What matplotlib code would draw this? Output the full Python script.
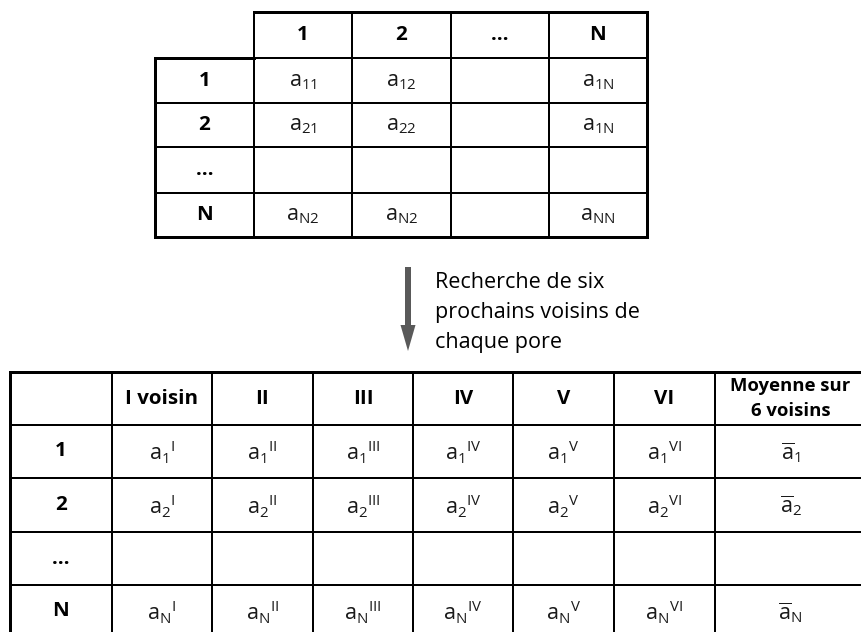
import matplotlib
matplotlib.use("Agg")
import matplotlib.pyplot as plt

plt.rcParams['font.family'] = ['Open Sans', 'DejaVu Sans']
plt.rcParams['mathtext.fontset'] = 'custom'
plt.rcParams['mathtext.rm'] = 'Open Sans'
plt.rcParams['mathtext.it'] = 'Open Sans'
plt.rcParams['mathtext.bf'] = 'Open Sans:bold'

# ---------------- data ----------------
top_col_labels = ['1', '2', '…', 'N']
top_row_labels = ['1', '2', '…', 'N']
top_cells = [
    ['11', '12', '', '1N'],
    ['21', '22', '', '1N'],
    ['', '', '', ''],
    ['N2', 'N2', '', 'NN'],
]

arrow_text = ['Recherche de six', 'prochains voisins de', 'chaque pore']

bot_col_labels = ['I voisin', 'II', 'III', 'IV', 'V', 'VI', 'Moyenne sur\n6 voisins']
bot_row_labels = ['1', '2', '…', 'N']
bot_row_subs = ['1', '2', '', 'N']
neighbour_numerals = ['I', 'II', 'III', 'IV', 'V', 'VI']

# ---------------- layout (pixels) ----------------
W, H, DPI = 862, 632, 100
fig = plt.figure(figsize=(W / DPI, H / DPI), dpi=DPI)
ax = fig.add_axes([0, 0, 1, 1])
ax.set_xlim(0, W)
ax.set_ylim(H, 0)
ax.axis('off')

def pt(px):
    return px * 72.0 / DPI

LW_OUT = pt(3)
LW_IN = pt(2)
TXT = '#1a1a1a'

def hline(y, x0, x1, lw):
    ax.plot([x0, x1], [y, y], color='black', lw=lw, solid_capstyle='projecting')

def vline(x, y0, y1, lw):
    ax.plot([x, x], [y0, y1], color='black', lw=lw, solid_capstyle='projecting')

# ---------------- top table ----------------
tx = [155, 254, 352, 451, 549, 647]
ty = [12, 58, 103, 147, 193, 237]

hline(ty[0], tx[1], tx[-1], LW_OUT)
for j in range(1, len(ty) - 1):
    hline(ty[j], tx[0], tx[-1], LW_IN)
hline(ty[1], tx[0], tx[1], LW_OUT)
hline(ty[-1], tx[0], tx[-1], LW_OUT)
vline(tx[0], ty[1], ty[-1], LW_OUT)
for i in range(1, len(tx) - 1):
    vline(tx[i], ty[0], ty[-1], LW_IN)
vline(tx[-1], ty[0], ty[-1], LW_OUT)

HDR_FS = pt(20.5)
CELL_FS = pt(21.5)

for i, lab in enumerate(top_col_labels):
    cx = (tx[i + 1] + tx[i + 2]) / 2
    cy = (ty[0] + ty[1]) / 2
    ax.text(cx, cy, lab, ha='center', va='center', fontsize=HDR_FS,
            fontweight='bold', color='black')
for r, lab in enumerate(top_row_labels):
    cx = (tx[0] + tx[1]) / 2
    cy = (ty[r + 1] + ty[r + 2]) / 2
    ax.text(cx, cy, lab, ha='center', va='center', fontsize=HDR_FS,
            fontweight='bold', color='black')
    for c, sub in enumerate(top_cells[r]):
        if not sub:
            continue
        cx = (tx[c + 1] + tx[c + 2]) / 2
        ax.text(cx, cy + 1, r'$\mathregular{a_{%s}}$' % sub, ha='center', va='center',
                fontsize=CELL_FS, color=TXT)

# ---------------- arrow + text ----------------
ax.arrow(408, 267, 0, 84, width=6, head_width=15, head_length=26,
         length_includes_head=True, color='#595959', lw=0)
for k, line in enumerate(arrow_text):
    ax.text(435, 288 + k * 30, line, ha='left', va='baseline',
            fontsize=pt(21.5), color='black')

# ---------------- bottom table ----------------
bx = [10, 112, 212, 313, 413, 513, 614, 715, 866]
by = [372, 425, 478, 532, 585, 638]

hline(by[0], bx[0], bx[-1], LW_OUT)
for j in range(1, len(by) - 1):
    hline(by[j], bx[0], bx[-1], LW_IN)
hline(by[-1], bx[0], bx[-1], LW_OUT)
vline(bx[0], by[0], by[-1], LW_OUT)
for i in range(1, len(bx) - 1):
    vline(bx[i], by[0], by[-1], LW_IN)
vline(bx[-1], by[0], by[-1], LW_OUT)

for i, lab in enumerate(bot_col_labels):
    cx = (bx[i + 1] + bx[i + 2]) / 2
    cy = (by[0] + by[1]) / 2
    fs = HDR_FS if '\n' not in lab else pt(18.5)
    ax.text(cx, cy, lab, ha='center', va='center', fontsize=fs,
            fontweight='bold', color='black', linespacing=1.5)

for r, lab in enumerate(bot_row_labels):
    cy = (by[r + 1] + by[r + 2]) / 2
    ax.text((bx[0] + bx[1]) / 2, cy, lab, ha='center', va='center',
            fontsize=HDR_FS, fontweight='bold', color='black')
    sub = bot_row_subs[r]
    if not sub:
        continue
    for c, num in enumerate(neighbour_numerals):
        cx = (bx[c + 1] + bx[c + 2]) / 2
        ax.text(cx, cy + 1, r'$\mathregular{a_{%s}{}^{%s}}$' % (sub, num),
                ha='center', va='center', fontsize=CELL_FS, color=TXT)
    cx = (bx[7] + bx[8]) / 2
    ax.text(cx, cy + 1, r'$\mathregular{\overline{a}_{%s}}$' % sub,
            ha='center', va='center', fontsize=CELL_FS, color=TXT)

fig.savefig('out.png', dpi=DPI, facecolor='white')
